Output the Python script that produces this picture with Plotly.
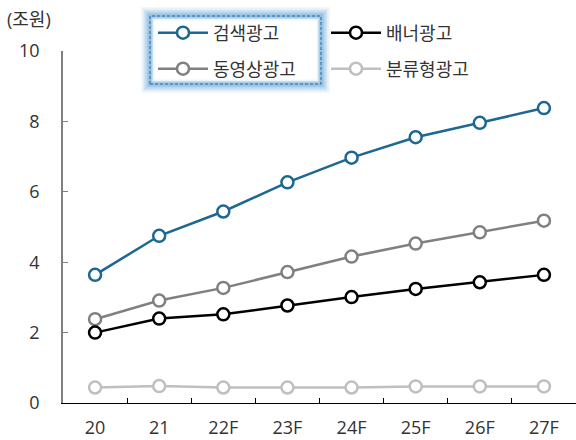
import plotly.graph_objects as go

categories = ["20", "21", "22F", "23F", "24F", "25F", "26F", "27F"]
search_ads = [3.64, 4.75, 5.44, 6.27, 6.97, 7.55, 7.96, 8.38]
banner_ads = [2.00, 2.40, 2.52, 2.77, 3.01, 3.24, 3.43, 3.64]
video_ads = [2.38, 2.91, 3.27, 3.72, 4.16, 4.53, 4.85, 5.18]
classified_ads = [0.44, 0.48, 0.44, 0.44, 0.44, 0.47, 0.47, 0.47]

series = [
    ("검색광고", search_ads, "#1d6890", "legend"),
    ("배너광고", banner_ads, "#000000", "legend2"),
    ("동영상광고", video_ads, "#808080", "legend3"),
    ("분류형광고", classified_ads, "#bfbfbf", "legend4"),
]

FONT = "Open Sans, Noto Sans CJK KR"
TXT = "#333333"
W, H = 576, 440
L, T, B = 63, 51, 37
PW, PH = W - L, H - T - B


def px_x(x):
    return (x - L) / PW


def px_y(y):
    return (H - B - y) / PH


fig = go.Figure()
# draw the faint series first so the darker ones sit on top
for name, vals, color, leg in reversed(series):
    fig.add_trace(go.Scatter(
        x=categories, y=vals, name=name, mode="lines+markers",
        line=dict(color=color, width=2.5),
        marker=dict(symbol="circle", size=12, color="white",
                    line=dict(color=color, width=2.5)),
        legend=leg, showlegend=True,
    ))

# one legend per entry so each can be placed on a 2x2 grid
leg_pos = {
    "legend": (153, 33),
    "legend2": (326, 33),
    "legend3": (153, 69),
    "legend4": (326, 69),
}
legend_layout = {}
for key, (lx, ly) in leg_pos.items():
    legend_layout[key] = dict(
        x=px_x(lx), y=px_y(ly), xref="paper", yref="paper",
        xanchor="left", yanchor="middle",
        bgcolor="rgba(0,0,0,0)", borderwidth=0,
        font=dict(family=FONT, size=18, color=TXT),
        itemwidth=50,
    )

# highlighted frame around the first legend column (soft glow + dashed edge)
shapes = []
x0, y0, x1, y1 = 150, 16, 321, 84
for i, op in enumerate([0.08, 0.11, 0.15, 0.19, 0.24, 0.30]):
    g = 9 - i * 1.5
    shapes.append(dict(
        type="rect", xref="paper", yref="paper",
        x0=px_x(x0 - g), x1=px_x(x1 + g),
        y0=px_y(y1 + g), y1=px_y(y0 - g),
        line=dict(width=0), fillcolor=f"rgba(100,165,215,{op})", layer="below",
    ))
for i, op in enumerate([0.45, 0.7, 1.0]):
    g = 1.5 + i * 1.5
    shapes.append(dict(
        type="rect", xref="paper", yref="paper",
        x0=px_x(x0 + g), x1=px_x(x1 - g),
        y0=px_y(y1 - g), y1=px_y(y0 + g),
        line=dict(width=0), fillcolor=f"rgba(255,255,255,{op})", layer="below",
    ))
shapes.append(dict(
    type="rect", xref="paper", yref="paper",
    x0=px_x(x0), x1=px_x(x1), y0=px_y(y1), y1=px_y(y0),
    line=dict(color="#2f6f9f", width=1, dash="3px,2px"), fillcolor="rgba(0,0,0,0)",
    layer="above",
))

fig.update_layout(
    width=W, height=H,
    margin=dict(l=L, r=0, t=T, b=B, autoexpand=False),
    plot_bgcolor="white", paper_bgcolor="white",
    font=dict(family=FONT, size=18, color=TXT),
    showlegend=True,
    shapes=shapes,
    **legend_layout,
    annotations=[dict(
        text="(조원)", xref="paper", yref="paper", x=px_x(5), y=px_y(19),
        xanchor="left", yanchor="middle", showarrow=False,
        font=dict(family=FONT, size=18, color=TXT),
    )],
)

fig.update_xaxes(
    type="category", range=[-0.5, 7.5],
    showline=True, linecolor="black", linewidth=1.3,
    ticks="inside", tickson="boundaries", ticklen=5, tickcolor="black", tickwidth=1,
    showgrid=False, zeroline=False, ticklabelstandoff=8,
    tickfont=dict(family=FONT, size=18, color=TXT),
)
fig.update_yaxes(
    range=[0, 10], dtick=2,
    showline=True, linecolor="#808080", linewidth=1.5,
    ticks="inside", ticklen=5, tickcolor="#808080", tickwidth=1,
    showgrid=False, zeroline=False, ticklabelstandoff=18,
    tickfont=dict(family=FONT, size=18, color=TXT),
)

fig.write_html("out.html")
